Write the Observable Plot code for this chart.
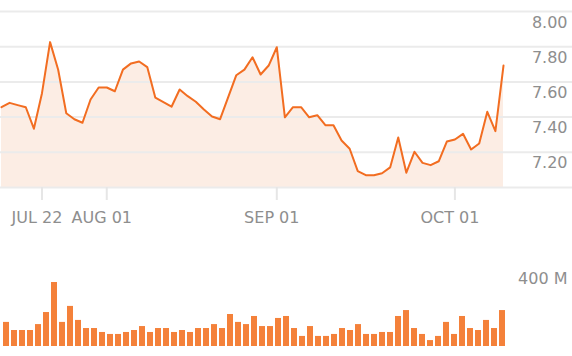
<!DOCTYPE html>
<html><head><meta charset="utf-8">
<script src="https://cdn.jsdelivr.net/npm/d3@7"></script>
<script src="https://cdn.jsdelivr.net/npm/@observablehq/plot@0.6"></script>
<style>body{margin:0;background:#fff;} #chart svg{display:block;}</style>
</head><body><div id="chart"></div>
<script>
const prices = [7.456, 7.481, 7.468, 7.456, 7.334, 7.536, 7.826, 7.669, 7.422, 7.388,
  7.368, 7.500, 7.568, 7.568, 7.547, 7.670, 7.705, 7.716, 7.684, 7.510,
  7.485, 7.459, 7.557, 7.519, 7.487, 7.443, 7.403, 7.388, 7.513, 7.638,
  7.670, 7.740, 7.642, 7.693, 7.797, 7.399, 7.456, 7.456, 7.399, 7.411,
  7.354, 7.354, 7.267, 7.220, 7.093, 7.070, 7.070, 7.081, 7.114, 7.284,
  7.084, 7.203, 7.140, 7.127, 7.149, 7.261, 7.273, 7.305, 7.216, 7.250,
  7.430, 7.320, 7.693];
const volumes = [122, 81, 81, 81, 111, 172, 324, 122, 203, 132,
  91, 91, 71, 61, 61, 71, 81, 101, 71, 91,
  91, 71, 81, 71, 91, 91, 111, 91, 162, 122,
  111, 152, 101, 101, 142, 152, 91, 51, 101, 51,
  51, 61, 91, 81, 111, 61, 61, 71, 71, 152,
  182, 91, 61, 30, 51, 122, 61, 152, 91, 81,
  132, 91, 182];
const xTickIndex = [5, 13, 34, 56];
const xTickLabels = ["JUL 22", "AUG 01", "SEP 01", "OCT 01"];
const yTicks = [7.0, 7.2, 7.4, 7.6, 7.8, 8.0];
const yTickLabels = ["", "7.20", "7.40", "7.60", "7.80", "8.00"];
const volumeTicks = [400];
const volumeTickLabels = ["400 M"];

const priceData = prices.map((p, i) => ({i, p}));
const volData = volumes.map((v, i) => ({i, v}));
const xLabelData = xTickIndex.map((i, j) => ({i, label: xTickLabels[j]}));
const yLabelData = yTicks.map((t, j) => ({t, label: yTickLabels[j]}));
const vLabelData = volumeTicks.map((t, j) => ({t, label: volumeTickLabels[j]}));

const FONT = "DejaVu Sans";
const GRAY = "#8e8e8e";
const textStyle = {fontFamily: FONT, fontSize: "16px", background: "white", overflow: "visible"};

const priceChart = Plot.plot({
  width: 572, height: 235,
  marginTop: 11, marginBottom: 48, marginLeft: 0, marginRight: 0,
  style: textStyle,
  x: {domain: [0, prices.length - 1], range: [1, 503], axis: null},
  y: {domain: [yTicks[0], yTicks[yTicks.length - 1]], axis: null},
  marks: [
    Plot.areaY(priceData, {x: "i", y1: yTicks[0], y2: "p", fill: "#fcede4"}),
    Plot.ruleY(yTicks, {stroke: "#ebebeb", strokeWidth: 2}),
    Plot.axisX(xTickIndex, {tickSize: 13, stroke: "#e6e6e6", strokeWidth: 2, tickFormat: () => "", label: null}),
    Plot.text(xLabelData, {x: "i", text: "label", frameAnchor: "bottom", lineAnchor: "top", dy: 24, dx: -5, fill: GRAY, fontSize: 16, letterSpacing: 0.3}),
    Plot.text(yLabelData, {y: "t", text: "label", frameAnchor: "right", textAnchor: "end", dx: -5, dy: 11, fill: GRAY, fontSize: 16}),
    Plot.lineY(priceData, {x: "i", y: "p", stroke: "#f26d21", strokeWidth: 2})
  ]
});

const volumeChart = Plot.plot({
  width: 572, height: 121,
  marginTop: 32, marginBottom: 10, marginLeft: 0, marginRight: 0,
  style: textStyle,
  x: {type: "band", domain: volData.map(d => d.i), range: [0, 508], paddingInner: 0.26, paddingOuter: 0, axis: null},
  y: {domain: [0, volumeTicks[0]], axis: null},
  marks: [
    Plot.barY(volData, {x: "i", y: "v", fill: "#f4813a"}),
    Plot.text(vLabelData, {y: "t", text: "label", frameAnchor: "right", textAnchor: "end", dx: -5, dy: 11, fill: GRAY, fontSize: 16})
  ]
});

const el = document.getElementById("chart");
el.appendChild(priceChart);
el.appendChild(volumeChart);
</script>
</body></html>
